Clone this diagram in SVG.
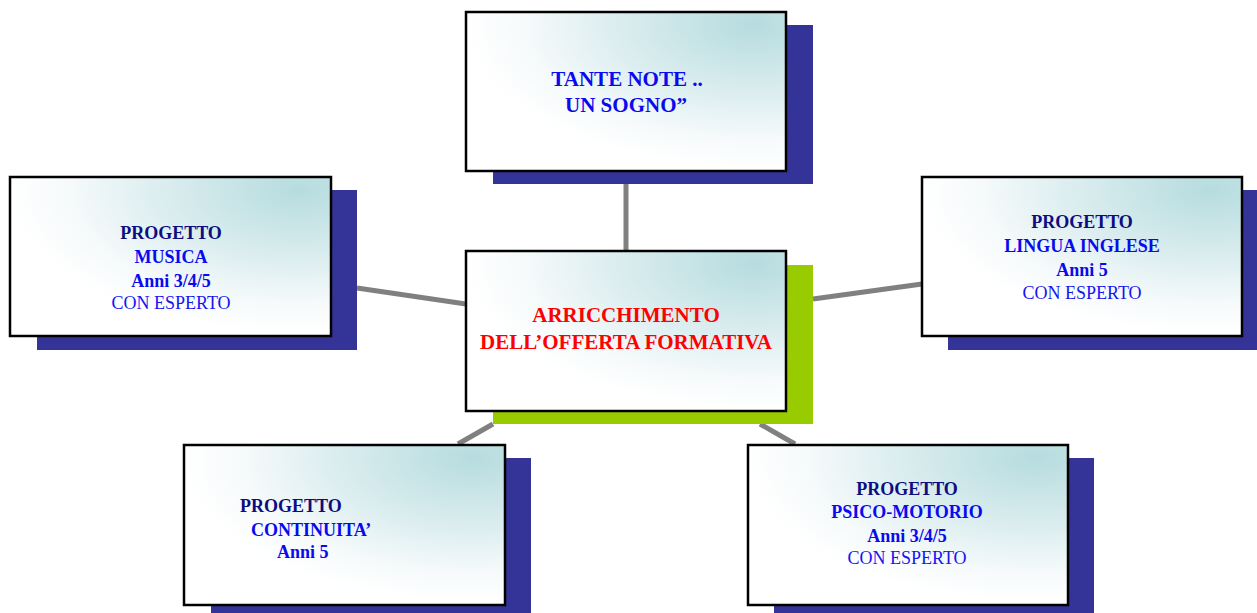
<svg xmlns="http://www.w3.org/2000/svg" width="1257" height="613" viewBox="0 0 1257 613">
<defs>
<radialGradient id="bg" cx="0.9" cy="0.08" r="0.9" fx="0.9" fy="0.08">
<stop offset="0" stop-color="#b6dcdf"/>
<stop offset="0.45" stop-color="#d9ecee"/>
<stop offset="0.8" stop-color="#f6fafb"/>
<stop offset="1" stop-color="#ffffff"/>
</radialGradient>
</defs>
<style>
.box{fill:url(#bg);stroke:#000;stroke-width:2.5}
.sh{fill:#343397}
.shg{fill:#99cc00}
.con line{stroke:#808080;stroke-width:5}
text{font-family:"Liberation Serif","DejaVu Serif",serif;font-size:18px;font-weight:bold;text-anchor:middle}
.nv{fill:#0d0d80}
.bl{fill:#0a0aee}
.rg{font-weight:normal;fill:#1515f0}
.rd{fill:#ff0000;font-size:21px}
.lt{text-anchor:start}
</style>
<g class="con">
<line x1="626" y1="184" x2="626" y2="251"/>
<line x1="357" y1="288" x2="466" y2="304"/>
<line x1="813" y1="299" x2="922" y2="284"/>
<line x1="458" y1="444" x2="493" y2="424"/>
<line x1="760" y1="424" x2="795" y2="444"/>
</g>
<g id="top">
<rect class="sh" x="493" y="25" width="320" height="159"/>
<rect class="box" x="466" y="12" width="320" height="159"/>
<text class="bl" x="627" y="86" style="font-size:21px">TANTE NOTE ..</text>
<text class="bl" x="626" y="112" style="font-size:21px">UN SOGNO”</text>
</g>
<g id="musica">
<rect class="sh" x="37" y="190" width="320" height="160"/>
<rect class="box" x="10" y="177" width="321" height="159"/>
<text class="nv" x="171" y="239">PROGETTO</text>
<text class="bl" x="171" y="263">MUSICA</text>
<text class="bl" x="171" y="287">Anni 3/4/5</text>
<text class="rg" x="171" y="309">CON ESPERTO</text>
</g>
<g id="center">
<rect class="shg" x="493" y="265" width="320" height="159"/>
<rect class="box" x="466" y="251" width="320" height="160"/>
<text class="rd" x="626" y="322">ARRICCHIMENTO</text>
<text class="rd" x="626" y="349">DELL’OFFERTA FORMATIVA</text>
</g>
<g id="inglese">
<rect class="sh" x="948" y="190" width="309" height="160"/>
<rect class="box" x="922" y="177" width="320" height="159"/>
<text class="nv" x="1082" y="228">PROGETTO</text>
<text class="bl" x="1082" y="252">LINGUA INGLESE</text>
<text class="bl" x="1082" y="276">Anni 5</text>
<text class="rg" x="1082" y="299">CON ESPERTO</text>
</g>
<g id="continuita">
<rect class="sh" x="211" y="458" width="320" height="155"/>
<rect class="box" x="184" y="445" width="321" height="160"/>
<text class="nv lt" x="240" y="512">PROGETTO</text>
<text class="bl lt" x="251" y="536">CONTINUITA’</text>
<text class="bl lt" x="277" y="558">Anni 5</text>
</g>
<g id="psico">
<rect class="sh" x="774" y="458" width="320" height="155"/>
<rect class="box" x="748" y="445" width="320" height="160"/>
<text class="nv" x="907" y="495">PROGETTO</text>
<text class="bl" x="907" y="518">PSICO-MOTORIO</text>
<text class="bl" x="907" y="542">Anni 3/4/5</text>
<text class="rg" x="907" y="564">CON ESPERTO</text>
</g>
</svg>
